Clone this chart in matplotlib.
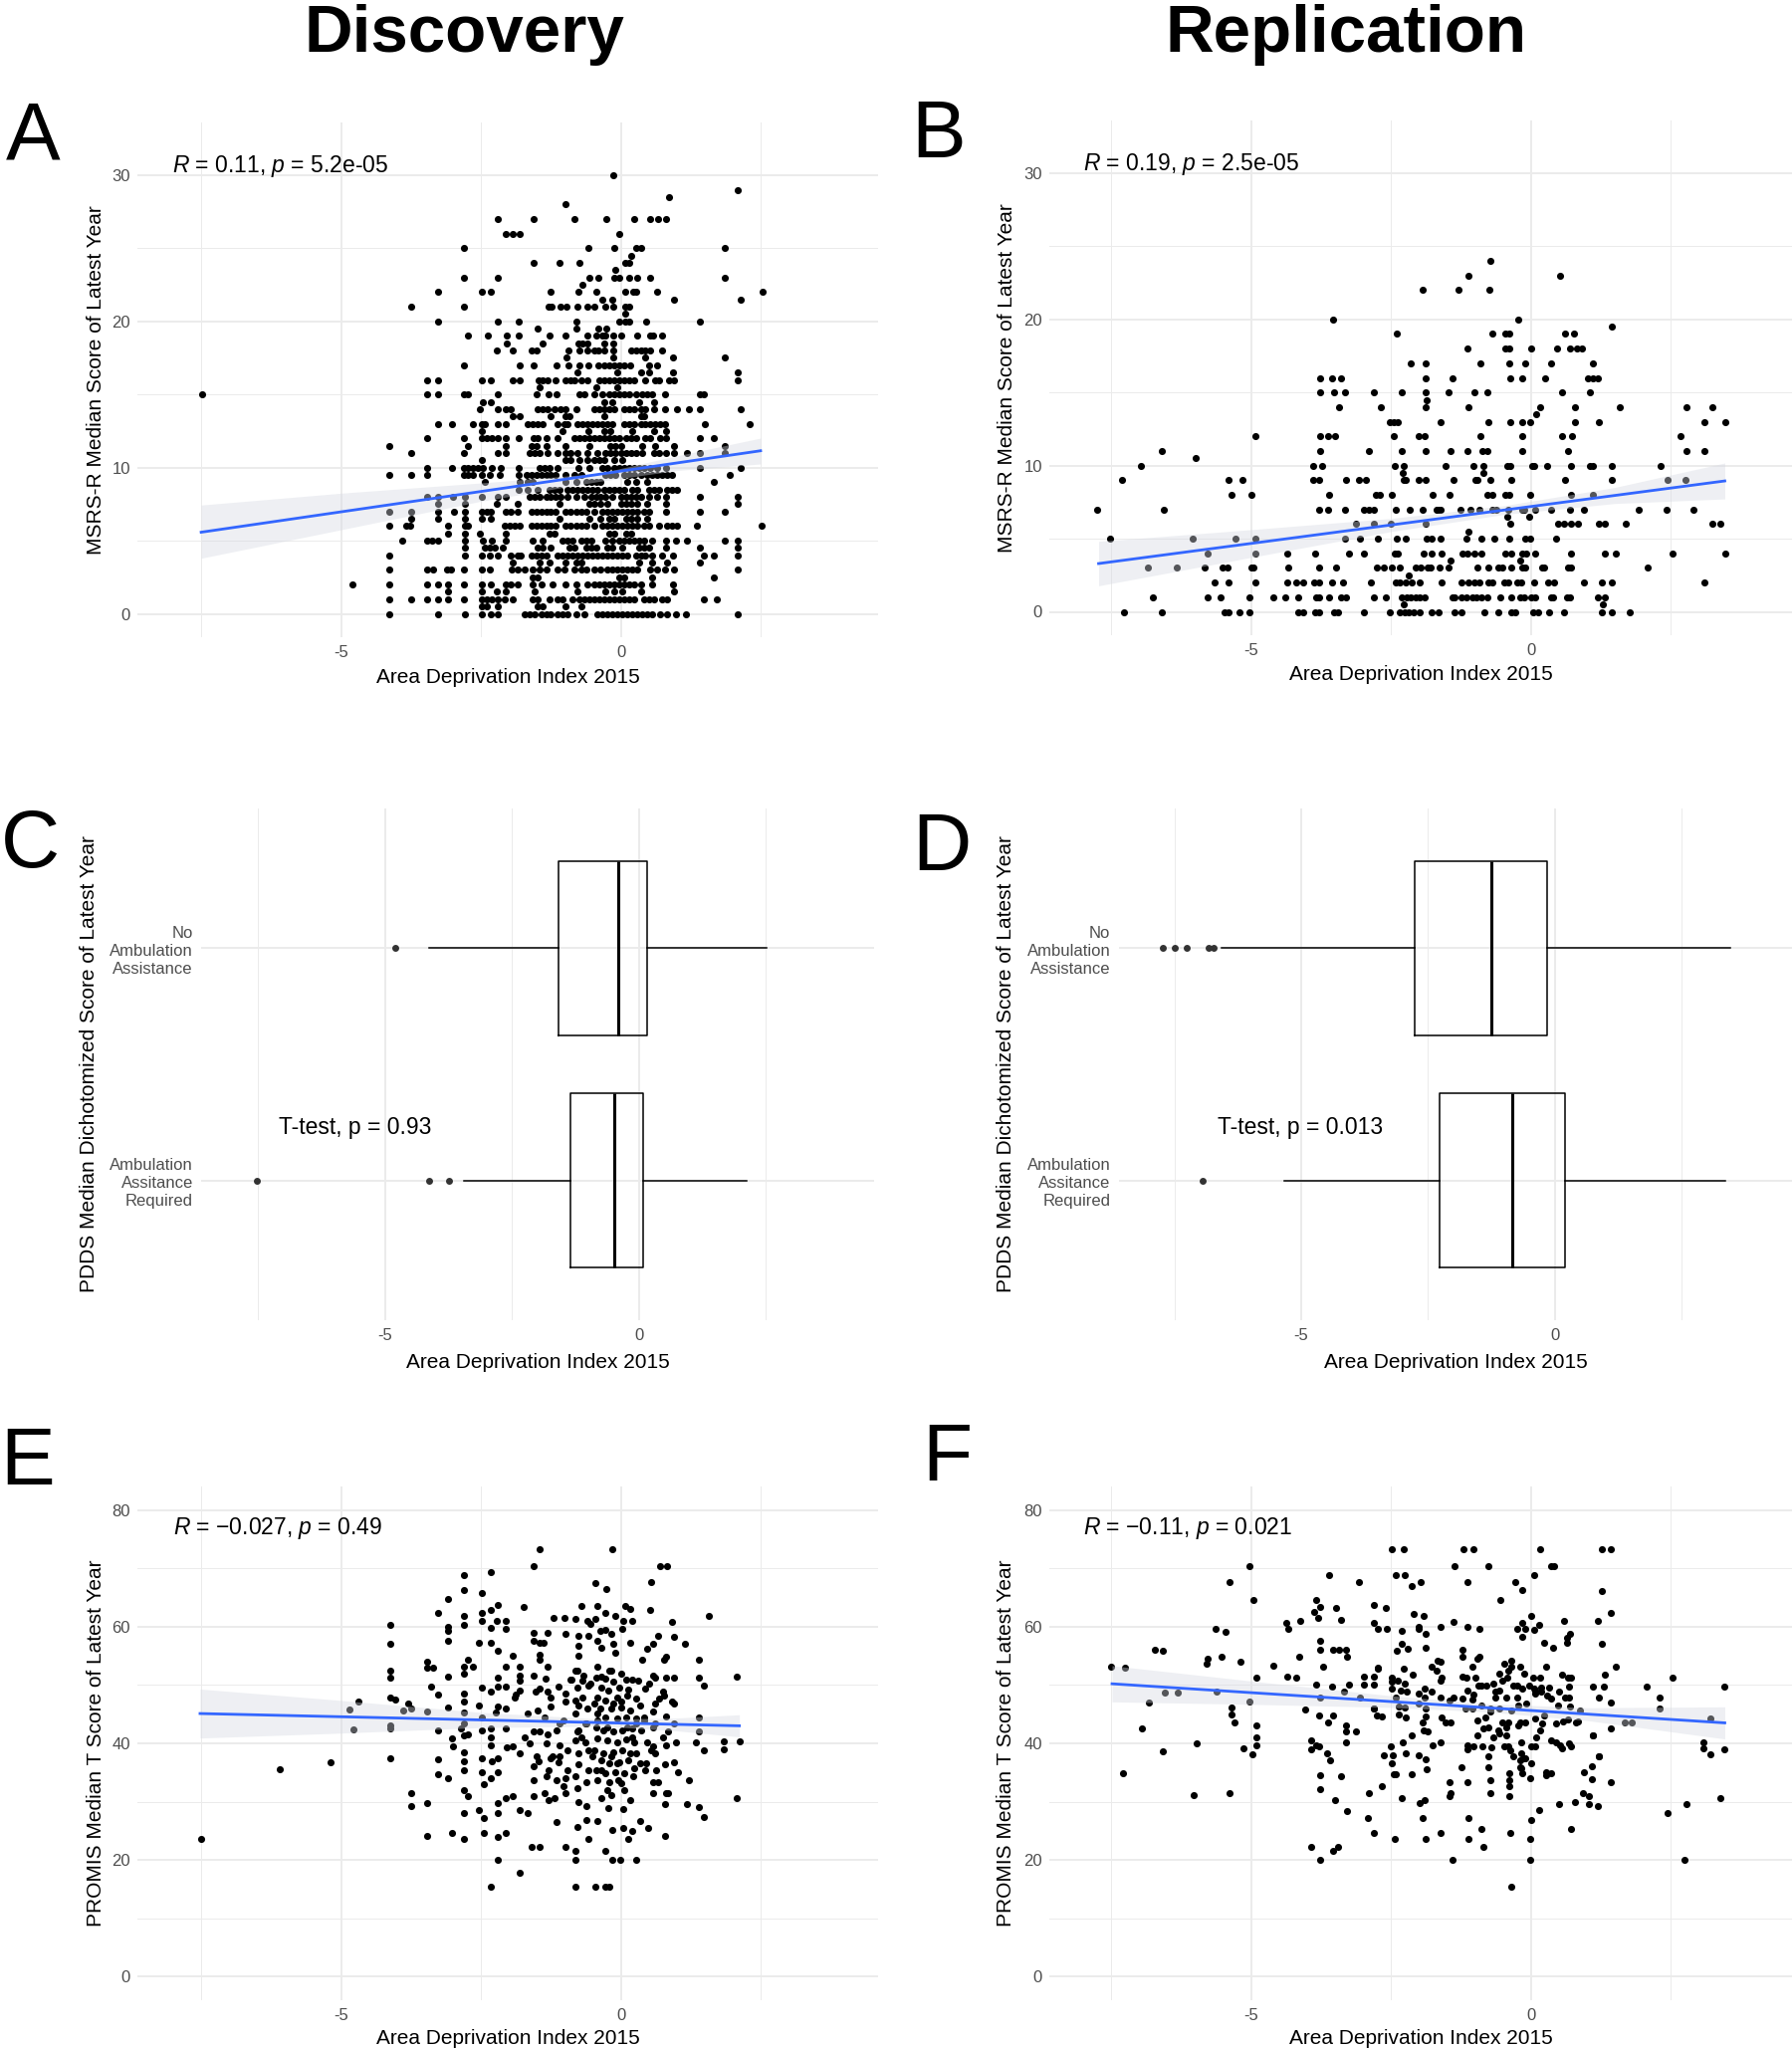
import matplotlib.pyplot as plt
import numpy as np

plt.rcParams['font.family'] = ['Liberation Sans', 'DejaVu Sans']
plt.rcParams['mathtext.fontset'] = 'custom'
plt.rcParams['mathtext.it'] = 'Liberation Sans:italic'
plt.rcParams['mathtext.rm'] = 'Liberation Sans'

# ---------------- data ----------------
# A: discovery, MSRS-R median score vs ADI (score -> list of ADI values)
a_rows = {
    30: [-0.14], 29: [2.09], 28.5: [0.87], 28: [-0.98],
    27: [-2.19, -1.56, -0.82, -0.26, 0.24, 0.52, 0.66, 0.81],
    26: [-2.05, -1.93, -1.80, -0.03],
    25: [-2.80, -0.58, -0.11, 0.27, 0.36, 1.86],
    24.5: [0.18],
    24: [-1.56, -1.10, -0.73, 0.08, 0.15],
    23.5: [-0.10],
    23: [-2.80, -2.19, -0.56, -0.40, -0.12, -0.02, 0.15, 0.30, 0.53, 1.86],
    22.5: [-0.68],
    22: [-3.26, -2.49, -2.33, -1.25, -0.76, -0.44, 0.08, 0.23, 0.28, 0.65, 2.53],
    21.5: [-0.33, -0.16, 0.96, 2.14],
    21: [-3.74, -2.80, -1.29, -1.23, -1.07, -0.97, -0.78, -0.59, -0.47, -0.28, -0.14, 0.08, 0.15],
    20.5: [0.08],
    20: [-3.26, -2.19, -1.82, -0.79, -0.03, 0.08, 0.15, 0.46, 1.42],
    19.5: [-1.48, -0.79, -0.40, -0.25],
    19: [-2.73, -2.38, -2.04, -1.82, -1.28, -0.99, -0.59, -0.44, -0.33, -0.28, -0.14, 0.0, 0.30, 0.52, 0.58, 0.73],
    18.5: [-2.04, -1.39, -0.76, -0.68, -0.59, -0.30, -0.14],
    18: [-2.21, -1.93, -1.60, -1.51, -0.93, -0.73, -0.59, -0.47, -0.40, -0.30, -0.14, 0.18, 0.27, 0.36, 0.44, 0.53, 0.73],
    17.5: [-0.97, -0.14, 0.44, 0.94, 1.86],
    17: [-2.80, -1.80, -1.56, -1.14, -0.93, -0.73, -0.58, -0.40, -0.30, -0.21, -0.12, -0.03, 0.07, 0.17, 0.50, 0.65],
    16.5: [-0.78, -0.06, 0.37, 0.50, 0.94, 2.09],
    16: [-3.46, -3.26, -2.49, -2.33, -1.93, -1.80, -1.47, -1.39, -1.30, -1.16, -0.98, -0.90, -0.83, -0.71, -0.59,
         -0.39, -0.30, -0.21, -0.12, -0.03, 0.06, 0.15, 0.24, 0.44, 0.62, 0.68, 0.87, 0.95, 2.09],
    15.5: [-1.45, -0.44, -0.06],
    15: [-7.48, -3.46, -3.26, -2.80, -2.74, -2.19, -1.51, -1.29, -1.14, -0.73, -0.65, -0.47, -0.33, -0.21, -0.12,
         -0.03, 0.06, 0.15, 0.27, 0.39, 0.47, 0.56, 0.80, 1.42, 1.48],
    14.5: [-2.46, -2.33, -0.30, -0.15, 0.33, 0.59],
    14: [-2.52, -2.19, -2.05, -1.97, -1.48, -1.39, -1.30, -1.19, -1.07, -0.98, -0.80, -0.47, -0.39, -0.30, -0.21,
         -0.12, 0.06, 0.15, 0.24, 0.36, 0.44, 0.59, 0.80, 1.01, 1.22, 1.42, 2.14],
    13.5: [-1.93, -1.81, -1.25, -0.98, -0.92, -0.30, 0.36, 0.42],
    13: [-3.26, -3.01, -2.64, -2.49, -2.43, -2.19, -2.05, -1.66, -1.57, -1.48, -1.39, -1.13, -1.01, -0.95, -0.77,
         -0.68, -0.59, -0.50, -0.42, -0.33, -0.24, -0.15, 0.06, 0.15, 0.24, 0.36, 0.44, 0.53, 0.62, 0.71, 0.80, 1.50, 2.31],
    12.5: [-2.49, -1.05, -0.58, -0.30, -0.19, 0.20, 0.59, 0.81],
    12: [-3.46, -2.80, -2.49, -2.40, -2.31, -2.19, -2.05, -1.82, -1.56, -1.48, -1.33, -1.13, -0.83, -0.74, -0.65,
         -0.56, -0.47, -0.39, -0.30, -0.21, -0.12, -0.03, 0.09, 0.18, 0.27, 0.44, 0.53, 0.71, 0.81, 1.42, 1.66],
    11.5: [-4.13, -2.73, -2.05, -1.60, -1.51, -1.33, -0.98, -0.56, -0.18, -0.09, 0.0, 0.39, 0.62, 0.96, 1.86],
    11: [-3.74, -2.80, -2.19, -2.05, -1.63, -1.54, -1.45, -1.30, -1.13, -0.98, -0.89, -0.77, -0.59, -0.42, -0.27,
         -0.18, -0.09, 0.0, 0.09, 0.18, 0.27, 0.39, 0.59, 0.68, 0.81, 0.96, 1.19, 1.42, 1.86],
    10.5: [-2.49, -0.98, -0.89, -0.74, -0.59, -0.47, -0.39, -0.30, -0.12, 0.03],
    10: [-3.46, -3.01, -2.80, -2.73, -2.64, -2.55, -2.46, -2.31, -2.14, -1.82, -1.45, -1.36, -1.28, -1.13, -0.76,
         -0.56, -0.33, -0.24, -0.12, -0.03, 0.06, 0.15, 0.24, 0.33, 0.42, 0.52, 0.65, 0.81, 1.42, 2.14],
    9.5: [-4.13, -3.74, -3.46, -2.80, -2.73, -2.64, -2.49, -2.34, -2.16, -1.82, -1.69, -1.60, -1.51, -1.42, -1.33,
          -1.25, -1.16, -0.98, -0.83, -0.71, -0.27, -0.18, -0.09, 0.06, 0.15, 0.24, 0.36, 0.47, 0.56, 0.65, 0.74,
          0.83, 0.92, 1.95],
    9: [-2.43, -1.81, -1.66, -1.57, -0.98, -0.80, -0.62, -0.53, -0.44, -0.36, 0.12, 0.27, 0.47, 1.66],
    8.5: [-1.82, -1.66, -1.48, -1.28, -1.19, -1.10, -0.95, -0.86, -0.77, -0.68, -0.59, -0.50, -0.42, -0.30, -0.21,
          -0.12, -0.03, 0.06, 0.21, 0.30, 0.50, 0.59, 0.68, 0.83, 0.92, 1.01],
    8: [-3.46, -3.26, -3.00, -2.79, -2.49, -2.19, -2.05, -1.63, -1.54, -1.45, -1.33, -1.25, -1.16, -1.07, -0.95,
        -0.80, -0.65, -0.53, -0.44, -0.36, -0.27, -0.15, 0.0, 0.09, 0.18, 0.27, 0.36, 0.50, 0.65, 0.81, 1.42, 2.09],
    7.5: [-3.26, -2.79, -2.22, -1.84, -1.10, -0.56, -0.47, -0.36, -0.24, 0.0, 0.09, 0.18, 0.30, 0.47, 0.81, 2.09],
    7: [-4.13, -3.74, -3.26, -2.98, -2.79, -2.49, -2.40, -2.33, -2.06, -1.96, -1.84, -1.60, -1.51, -1.42, -1.33,
        -1.25, -1.16, -0.98, -0.89, -0.80, -0.71, -0.62, -0.47, -0.33, -0.24, -0.15, -0.06, 0.03, 0.12, 0.21, 0.30,
        0.42, 0.50, 0.81, 1.42, 1.86],
    6.5: [-3.74, -3.26, -2.79, -2.49, -2.33, -1.10, -0.56, -0.36, -0.21, -0.12, 0.09, 0.18, 0.30, 0.47],
    6: [-4.13, -3.83, -3.77, -3.08, -2.79, -2.73, -2.08, -1.99, -1.90, -1.81, -1.60, -1.51, -1.42, -1.33, -1.25,
        -1.16, -0.98, -0.89, -0.80, -0.71, -0.62, -0.47, -0.33, -0.24, -0.15, -0.06, 0.03, 0.12, 0.21, 0.30, 0.42,
        0.50, 0.68, 0.83, 0.92, 1.01, 1.36, 2.52],
    5.5: [-3.08, -2.79, -2.52, -2.05, -1.28, -1.19, -0.21, -0.12, 0.09, 0.18],
    5: [-3.90, -3.46, -3.38, -3.26, -2.79, -2.46, -2.31, -2.05, -1.57, -1.39, -1.04, -0.95, -0.86, -0.71, -0.62,
        -0.53, -0.27, -0.15, -0.03, 0.06, 0.15, 0.24, 0.33, 0.42, 0.56, 0.81, 0.99, 1.19, 1.86, 2.09],
    4.5: [-2.79, -2.43, -2.34, -2.25, -2.11, -1.48, -1.39, -1.25, -0.92, -0.83, -0.62, -0.53, -0.44, -0.24, -0.15,
          0.03, 0.33, 0.42, 0.50, 0.81, 1.42, 2.09],
    4: [-4.13, -2.79, -2.49, -2.34, -2.19, -1.96, -1.84, -1.78, -1.60, -1.51, -1.42, -1.33, -1.13, -1.04, -0.95,
        -0.86, -0.77, -0.68, -0.59, -0.50, -0.42, -0.33, -0.24, -0.15, -0.06, 0.03, 0.12, 0.27, 0.36, 0.44, 0.56,
        0.74, 0.93, 1.48, 1.66, 2.09],
    3.5: [-1.93, -1.45, -1.28, -0.98, -0.80, -0.71, 0.33, 0.56, 0.83, 1.42],
    3: [-4.13, -3.46, -3.36, -3.11, -3.04, -2.80, -2.49, -2.34, -1.94, -1.84, -1.72, -1.57, -1.45, -1.33, -1.13,
        -1.01, -0.83, -0.71, -0.62, -0.47, -0.36, -0.24, -0.15, -0.06, 0.03, 0.12, 0.21, 0.30, 0.52, 0.65, 0.80,
        0.95, 2.09],
    2.5: [-1.57, -1.48, -0.03, 0.06, 0.56, 1.66],
    2: [-4.80, -4.13, -3.46, -3.26, -3.08, -2.80, -2.49, -2.33, -2.05, -1.96, -1.84, -1.57, -1.42, -1.22, -0.98,
        -0.80, -0.59, -0.47, -0.39, -0.30, -0.21, -0.12, -0.03, 0.06, 0.15, 0.24, 0.36, 0.56, 0.93],
    1.5: [-3.08, -2.49, -2.22, -2.05, -1.54, -0.77, -0.27, -0.12, 0.03, 0.36, 0.96],
    1: [-4.13, -3.74, -3.46, -3.26, -3.08, -2.80, -2.49, -2.40, -2.31, -2.19, -2.08, -1.93, -1.57, -1.48, -1.28,
        -1.13, -1.04, -0.86, -0.74, -0.65, -0.56, -0.47, -0.39, -0.30, -0.21, -0.12, -0.03, 0.06, 0.15, 0.24, 0.42,
        0.50, 0.59, 0.74, 0.83, 1.48, 1.72],
    0.5: [-2.49, -2.40, -2.19, -1.48, -1.39, -0.98, -0.71],
    0: [-4.13, -3.26, -2.79, -2.49, -2.33, -2.19, -1.72, -1.63, -1.54, -1.42, -1.33, -1.25, -1.13, -1.04, -0.95,
        -0.80, -0.65, -0.42, -0.33, -0.24, -0.15, -0.06, 0.03, 0.12, 0.21, 0.30, 0.39, 0.47, 0.56, 0.71, 0.83, 0.98,
        1.17, 2.09],
}

# B: replication, MSRS-R median score vs ADI
b_rows = {
    24: [-0.72], 23: [-1.12, 0.51], 22: [-1.94, -1.29, -0.75], 20: [-3.53, -0.22], 19.5: [1.44],
    19: [-2.40, -0.69, -0.46, -0.39, 0.60, 0.77],
    18: [-1.14, -0.46, -0.39, 0.0, 0.47, 0.70, 0.82, 0.91],
    17: [-2.14, -1.89, -0.90, -0.39, -0.10, 0.36, 1.10],
    16: [-3.77, -3.56, -3.40, -1.89, -1.40, -0.37, -0.16, 0.26, 1.02, 1.10, 1.19],
    15: [-3.77, -3.52, -3.32, -2.81, -2.31, -1.89, -1.47, -1.01, -0.78, 0.56, 1.06],
    14.5: [-1.87],
    14: [-3.42, -2.68, -1.89, -1.12, 0.16, 0.78, 1.59, 2.78, 3.23],
    13.5: [0.10],
    13: [-2.52, -2.45, -2.38, -1.61, -0.76, -0.37, -0.16, -0.02, 0.78, 1.22, 3.09, 3.47],
    12: [-4.92, -3.77, -3.62, -3.50, -2.45, -2.00, -1.90, -0.91, -0.16, 0.56, 0.73, 2.67],
    11: [-6.60, -3.77, -2.90, -2.31, -1.88, -1.44, -1.13, -0.86, -0.78, -0.16, 0.66, 2.78, 3.09],
    10.5: [-5.98],
    10: [-6.97, -3.89, -3.73, -2.44, -2.28, -1.52, -1.03, -0.85, -0.43, -0.37, 0.02, 0.06, 0.28, 0.71, 1.06, 1.11,
         1.44, 2.31],
    9.5: [-2.29, -0.85],
    9: [-7.31, -5.40, -5.15, -3.89, -3.78, -3.30, -3.08, -2.94, -2.28, -2.23, -2.00, -1.89, -1.39, -1.00, -0.96,
        -0.72, -0.35, 0.61, 1.44, 2.44, 2.75],
    8: [-5.35, -5.00, -3.61, -2.77, -2.70, -2.49, -1.76, -1.45, -0.78, -0.69, -0.46, -0.39, -0.02, 0.71, 1.11],
    7: [-7.75, -6.56, -3.78, -3.63, -3.32, -2.98, -2.90, -2.81, -2.41, -2.16, -1.94, -1.69, -1.65, -1.61, -1.26,
        -1.08, -0.93, -0.69, -0.62, -0.40, -0.16, -0.12, 0.08, 0.36, 0.70, 0.94, 1.92, 2.42, 2.90],
    6.5: [-0.43, -0.04],
    6: [-3.13, -2.81, -2.50, -1.89, -0.37, 0.48, 0.59, 0.71, 0.83, 1.22, 1.31, 1.69, 3.23, 3.38],
    5.5: [-1.12],
    5: [-7.51, -6.04, -5.28, -4.92, -3.32, -3.06, -2.73, -2.39, -2.23, -1.86, -1.77, -1.62, -1.15, -0.89, -0.65,
        -0.39, -0.11, -0.01, 0.45],
    4: [-5.78, -4.92, -4.36, -3.85, -3.25, -2.99, -2.44, -2.38, -1.92, -1.77, -1.60, -1.23, -1.13, -1.01, -0.89,
        -0.46, -0.36, -0.16, -0.08, 0.08, 0.71, 1.31, 1.52, 2.53, 3.47],
    3.5: [-1.43, -0.20],
    3: [-6.84, -6.32, -5.83, -5.51, -5.41, -5.00, -4.96, -4.34, -3.78, -3.48, -2.75, -2.62, -2.48, -2.35, -2.06,
        -1.97, -1.85, -1.79, -1.63, -1.48, -0.96, -0.77, -0.59, -0.52, -0.36, -0.16, -0.10, 0.19, 0.24, 0.66, 0.71,
        2.09],
    2.5: [-2.19],
    2: [-5.65, -5.40, -4.92, -4.36, -4.19, -4.06, -3.87, -3.79, -3.56, -3.35, -2.86, -2.41, -2.34, -2.24, -2.13,
        -1.98, -1.59, -1.25, -1.12, -1.01, -0.93, -0.76, -0.69, -0.48, -0.40, -0.24, -0.18, 0.05, 0.30, 0.42, 0.94,
        1.26, 1.44, 3.09],
    1: [-6.75, -5.78, -5.54, -5.03, -4.60, -4.38, -4.15, -3.83, -3.79, -3.60, -3.39, -3.31, -2.81, -2.60, -2.30,
        -2.22, -2.14, -2.06, -1.98, -1.90, -1.41, -1.37, -1.25, -1.15, -1.05, -0.97, -0.89, -0.78, -0.55, -0.36,
        -0.20, -0.12, 0.0, 0.08, 0.35, 0.40, 0.65, 0.69, 1.19, 1.31],
    0.5: [-2.28, 1.28],
    0: [-7.27, -6.60, -5.48, -5.40, -5.20, -5.02, -4.15, -4.06, -3.85, -3.79, -3.52, -3.44, -2.99, -2.52, -2.34,
        -2.26, -2.18, -2.10, -1.98, -1.77, -1.65, -1.37, -1.25, -0.83, -0.59, -0.36, -0.28, 0.04, 0.12, 0.32, 0.59,
        1.27, 1.44, 1.77],
}

# E: discovery, PROMIS median T score vs ADI (adi, score)
e_points = [
    (-7.50, 23.6), (-6.09, 35.6), (-5.18, 36.7), (-4.85, 45.8), (-4.78, 42.4), (-4.69, 47.1),
    (-4.12, 60.3), (-4.12, 57.0), (-4.12, 52.5), (-4.12, 51.2), (-4.12, 47.8), (-4.03, 47.5), (-4.12, 43.1),
    (-4.12, 42.5), (-4.12, 37.5), (-3.80, 46.9), (-3.74, 45.9), (-3.89, 45.7), (-3.74, 31.4), (-3.74, 29.2),
    (-3.46, 54.0), (-3.46, 52.9), (-3.36, 52.9), (-3.39, 49.8), (-3.26, 48.4), (-3.46, 45.4), (-3.26, 42.2),
    (-3.26, 37.3), (-3.26, 34.7), (-3.46, 29.7), (-3.46, 24.2), (-3.26, 62.3),
    (-3.08, 64.7), (-3.08, 59.9), (-3.08, 59.2), (-3.08, 57.5), (-3.08, 51.5), (-3.08, 46.1), (-3.01, 40.8),
    (-2.99, 39.5), (-3.08, 34.1), (-3.01, 24.7), (-2.80, 68.8), (-2.80, 66.2), (-2.80, 61.8), (-2.80, 60.3),
    (-2.74, 54.3), (-2.80, 53.2), (-2.65, 53.2), (-2.80, 52.0), (-2.80, 48.5), (-2.80, 47.2), (-2.80, 45.2),
    (-2.80, 43.4), (-2.80, 41.4), (-2.74, 41.6), (-2.80, 38.5), (-2.80, 36.9), (-2.80, 35.4), (-2.80, 32.0),
    (-2.74, 30.9), (-2.80, 28.0), (-2.80, 23.6), (-2.86, 42.5), (-2.49, 65.7), (-2.49, 62.4), (-2.49, 60.9),
    (-2.53, 57.3), (-2.49, 49.6), (-2.53, 46.5), (-2.48, 44.5), (-2.49, 42.2), (-2.49, 37.4), (-2.49, 35.1),
    (-2.45, 33.0), (-2.54, 28.6), (-2.45, 27.2), (-2.45, 24.7),
    (-2.33, 69.4), (-2.33, 62.8), (-2.20, 63.7), (-2.21, 60.9), (-2.06, 60.9), (-2.33, 59.8), (-2.06, 59.7),
    (-2.33, 57.3), (-2.20, 55.9), (-1.93, 55.0), (-2.05, 53.2), (-1.81, 53.2), (-2.20, 51.3), (-1.81, 51.6),
    (-1.81, 50.8), (-2.20, 49.8), (-2.05, 49.8), (-2.33, 48.8), (-1.81, 49.1), (-1.90, 47.8), (-2.20, 46.3),
    (-2.05, 45.9), (-1.87, 48.4), (-2.24, 45.2), (-2.33, 42.5), (-2.05, 42.5), (-2.33, 41.1), (-2.33, 39.6),
    (-2.04, 39.3), (-1.93, 39.5), (-1.81, 38.3), (-2.20, 37.4), (-2.31, 37.0), (-2.20, 35.0), (-2.33, 34.0),
    (-1.93, 31.0), (-2.05, 30.6), (-2.20, 29.8), (-1.81, 28.6), (-2.20, 28.0), (-2.05, 24.7), (-2.20, 23.9),
    (-2.20, 20.1), (-1.81, 17.8), (-2.33, 15.5), (-1.74, 63.4), (-1.66, 28.1), (-1.71, 41.1), (-1.56, 70.3),
    (-1.56, 59.0), (-1.56, 57.6), (-1.45, 57.3), (-1.38, 57.3), (-1.56, 51.6), (-1.53, 48.8), (-1.49, 45.7),
    (-1.66, 45.1), (-1.56, 42.0), (-1.45, 42.1), (-1.63, 40.0), (-1.51, 37.7), (-1.56, 36.0), (-1.56, 33.7),
    (-1.56, 31.0), (-1.60, 22.2), (-1.45, 22.2),
    (-1.45, 73.3), (-1.21, 61.5), (-1.00, 61.5), (-1.30, 58.9), (-0.98, 58.7), (-1.45, 55.2), (-1.45, 54.3),
    (-1.30, 53.2), (-1.34, 51.1), (-1.45, 49.4), (-1.30, 48.8), (-1.12, 49.8), (-1.25, 47.8), (-0.98, 48.5),
    (-0.98, 47.1), (-1.26, 46.3), (-1.36, 44.5), (-1.09, 43.4), (-1.30, 41.6), (-1.33, 40.0), (-1.09, 39.7),
    (-0.95, 38.8), (-1.26, 37.4), (-1.46, 37.0), (-1.12, 36.8), (-1.29, 35.4), (-1.32, 34.4), (-1.15, 33.6),
    (-0.98, 34.0), (-1.36, 31.4), (-1.29, 30.3), (-1.19, 30.6), (-0.98, 31.5), (-1.15, 26.5), (-0.98, 22.2),
    (-0.81, 61.4), (-0.71, 63.5), (-0.75, 58.4), (-0.58, 58.5), (-0.75, 56.7), (-0.76, 55.0), (-0.88, 50.9),
    (-0.78, 52.5), (-0.78, 49.6), (-0.69, 50.8), (-0.58, 49.9), (-0.81, 47.4), (-0.75, 46.5), (-0.60, 45.9),
    (-0.81, 45.1), (-0.64, 43.4), (-0.78, 42.0), (-0.71, 41.1), (-0.64, 40.2), (-0.76, 38.3), (-0.58, 38.8),
    (-0.75, 36.4), (-0.58, 35.4), (-0.81, 34.3), (-0.61, 33.4), (-0.78, 32.3), (-0.75, 30.0), (-0.61, 29.2),
    (-0.78, 25.7), (-0.58, 23.6), (-0.81, 21.6), (-0.81, 20.1), (-0.81, 15.5), (-0.61, 26.9), (-0.54, 60.4),
    (-0.60, 61.0),
    (-0.15, 73.3), (-0.45, 67.4), (-0.26, 66.4), (-0.41, 63.5), (0.08, 63.5), (0.17, 63.0), (-0.27, 62.3),
    (-0.45, 61.4), (-0.10, 61.9), (0.05, 60.9), (0.20, 60.9), (-0.37, 59.3), (-0.27, 59.4), (-0.17, 58.7),
    (0.03, 59.6), (-0.41, 57.6), (-0.14, 57.1), (0.17, 57.3), (-0.34, 56.3), (-0.10, 55.6), (-0.41, 53.2),
    (-0.20, 52.5), (0.0, 51.9), (-0.44, 51.3), (-0.28, 51.1), (-0.14, 50.5), (0.10, 50.9), (0.20, 50.9),
    (-0.35, 49.6), (-0.22, 49.1), (-0.03, 49.6), (0.14, 49.2), (-0.41, 47.9), (-0.27, 47.4), (-0.14, 46.8),
    (0.0, 47.1), (0.27, 47.6), (-0.37, 45.9), (-0.17, 45.9), (0.0, 46.2), (0.17, 45.6), (0.34, 46.5),
    (-0.27, 44.5), (-0.07, 44.2), (0.10, 44.5), (0.27, 44.2), (-0.44, 42.8), (-0.31, 42.2), (-0.14, 42.0),
    (0.03, 42.2), (0.20, 42.5), (0.37, 42.2), (-0.41, 40.8), (-0.24, 40.5), (-0.07, 40.2), (0.10, 40.6),
    (0.24, 40.2), (-0.47, 38.8), (-0.31, 38.3), (-0.14, 38.5), (0.03, 38.8), (0.17, 38.3), (-0.34, 37.1),
    (-0.20, 36.6), (-0.03, 36.8), (0.14, 37.1), (0.34, 36.6), (-0.44, 35.4), (-0.27, 34.8), (-0.10, 35.1),
    (0.07, 34.8), (0.24, 35.7), (-0.41, 33.7), (-0.20, 33.4), (0.0, 33.1), (-0.24, 32.0), (-0.17, 31.1),
    (0.07, 32.0), (0.17, 30.3), (-0.35, 30.6), (-0.22, 28.9), (0.05, 28.7), (-0.41, 26.6), (-0.15, 25.2),
    (0.05, 25.5), (0.20, 24.9), (0.14, 23.6), (-0.27, 21.6), (-0.15, 20.1), (-0.01, 20.1), (0.27, 20.1),
    (-0.45, 15.5), (-0.27, 15.5), (-0.20, 15.5), (0.34, 26.6), (0.49, 25.5),
    (0.54, 67.6), (0.71, 70.3), (0.83, 70.3), (0.53, 62.9), (0.92, 60.8), (0.66, 58.5), (0.95, 58.3),
    (1.15, 57.1), (0.58, 57.1), (0.47, 56.2), (0.81, 54.9), (0.78, 54.3), (0.39, 54.3), (0.61, 51.3),
    (0.81, 51.2), (0.95, 51.2), (0.51, 50.2), (0.75, 48.8), (0.78, 48.2), (0.61, 46.8), (0.95, 46.8),
    (0.58, 45.4), (0.81, 44.6), (0.41, 44.4), (0.58, 42.8), (0.85, 42.0), (0.98, 40.2), (0.54, 38.8),
    (0.58, 39.4), (0.81, 39.7), (0.95, 36.7), (0.80, 36.4), (0.44, 35.4), (0.64, 35.4), (1.02, 35.0),
    (0.58, 33.3), (0.66, 33.3), (1.22, 33.7), (0.58, 31.5), (0.81, 31.5), (0.85, 31.5), (0.80, 29.6),
    (1.19, 29.6), (0.80, 24.2), (1.40, 54.3), (1.40, 51.2), (1.48, 49.9), (1.40, 44.5), (1.40, 42.1),
    (1.34, 40.1), (1.48, 38.8), (1.40, 29.0), (1.48, 27.3), (1.58, 61.8), (1.85, 40.3), (1.85, 38.9),
    (2.08, 51.5), (2.12, 40.3), (2.08, 30.6),
    (-0.90, 50.9), (-0.81, 52.5), (-0.66, 51.6), (-0.54, 50.3), (-0.35, 51.5), (-0.17, 52.5), (0.31, 50.8),
    (0.44, 49.4), (0.58, 51.6), (0.69, 47.6), (0.92, 47.2), (0.41, 43.9), (0.27, 43.4), (0.11, 42.8),
    (-0.24, 42.8), (-0.42, 43.9), (-0.61, 43.4), (-0.76, 42.2), (-0.81, 40.5), (-0.50, 37.7), (-0.34, 35.4),
    (-0.05, 33.7), (0.22, 34.3), (0.45, 36.6), (0.61, 38.3), (0.47, 40.2), (0.20, 41.1), (-1.02, 43.9),
    (-1.15, 42.2), (-1.09, 37.7), (-0.95, 35.4), (-1.02, 32.6), (-1.22, 37.7), (-0.68, 47.9), (-0.47, 46.8),
    (-0.41, 45.1), (-0.07, 47.9), (0.12, 48.2), (0.61, 43.4), (0.75, 41.1), (0.95, 43.4), (-0.17, 37.7),
    (0.27, 38.3), (-0.07, 36.6),
]

# F: replication, PROMIS median T score vs ADI (adi, score)
f_points = [
    (-2.48, 73.3), (-2.27, 73.3), (-1.21, 73.3), (-1.02, 73.3), (0.16, 73.3), (1.26, 73.3), (1.43, 73.3),
    (-5.02, 70.3), (-1.37, 70.3), (-0.76, 70.3), (0.35, 70.3), (0.42, 70.3),
    (-3.60, 68.8), (-2.41, 68.8), (-2.25, 68.8), (0.06, 68.8),
    (-5.39, 67.6), (-3.07, 67.6), (-1.97, 67.6), (-2.13, 67.0), (-1.13, 67.6), (-0.28, 67.6),
    (-0.16, 66.2), (1.27, 66.1), (-4.95, 64.5), (-0.54, 64.5), (-3.83, 64.5),
    (-2.81, 63.7), (-2.60, 63.2), (-3.77, 63.4), (-3.48, 63.2), (-3.87, 62.6), (-3.80, 61.5),
    (-2.10, 62.2), (-1.92, 61.8), (1.43, 62.4), (0.0, 61.9),
    (-4.37, 60.7), (-4.12, 61.0), (-4.33, 59.7), (-3.39, 61.1), (-2.80, 60.7), (-2.73, 59.7), (-2.58, 59.7),
    (-5.63, 59.7), (-5.45, 59.1),
    (-2.01, 60.0), (-2.00, 59.7), (-1.88, 58.7), (-2.30, 59.3), (-1.62, 60.0), (-1.38, 60.8), (-1.14, 59.9),
    (-0.92, 59.7), (-0.16, 60.7), (-0.24, 59.7), (-0.10, 59.7), (0.05, 59.4), (0.14, 60.3), (0.59, 61.0),
    (1.19, 61.0), (-0.15, 58.3), (0.70, 58.7), (0.65, 58.1), (0.64, 57.3), (0.23, 57.3), (0.39, 56.3),
    (1.26, 57.1),
    (-6.72, 56.0), (-6.58, 55.8), (-3.77, 57.5), (-3.77, 56.0), (-3.54, 56.0), (-3.42, 56.0), (-3.30, 56.0),
    (-3.28, 54.8), (-2.40, 55.9), (-2.31, 57.0), (-2.20, 56.2), (-1.88, 56.4),
    (-1.22, 56.0), (-1.22, 54.8), (-0.96, 54.5), (-0.92, 54.8),
    (-5.79, 53.6), (-5.77, 54.5), (-5.52, 54.8), (-5.19, 54.0), (-4.60, 53.3), (-4.13, 54.8),
    (-7.49, 53.2), (-7.25, 52.9),
    (-3.71, 53.2), (-2.73, 52.9), (-2.28, 52.8), (-2.12, 51.8), (-1.78, 53.2), (-1.67, 54.2), (-1.62, 53.9),
    (-1.05, 53.2), (-0.48, 53.7), (-0.36, 54.1), (-0.36, 53.2), (-0.40, 52.5), (-0.42, 51.3), (-0.52, 50.8),
    (-0.56, 51.9), (-0.20, 53.2), (0.27, 53.2), (-0.13, 51.9), (0.04, 51.2), (0.56, 51.8), (0.66, 51.3),
    (0.71, 51.2), (0.67, 49.8), (1.31, 51.8), (1.51, 53.2),
    (-4.90, 51.2), (-4.35, 51.5), (-4.20, 51.2), (-2.99, 51.5), (-2.99, 50.1), (-2.74, 52.8),
    (2.07, 49.8), (2.52, 51.3), (3.46, 49.8),
    (-3.84, 50.1), (-3.55, 49.8), (-3.25, 50.1), (-2.81, 50.1),
    (-6.54, 48.7), (-6.30, 48.7), (-5.61, 48.9), (-6.82, 47.0), (-5.02, 47.2),
    (-4.04, 45.8), (-3.77, 47.8), (-3.34, 48.8), (-3.05, 47.8), (-2.81, 45.9), (-2.76, 44.7),
    (2.29, 47.8), (2.29, 46.0), (3.21, 44.3),
    (-5.34, 46.1), (-5.34, 44.9), (-5.29, 43.6), (-4.90, 43.0), (-4.90, 41.1), (-4.90, 39.6),
    (-6.95, 42.5), (-5.97, 40.0), (-6.58, 38.6), (-7.28, 34.9), (-5.13, 39.1), (-4.98, 38.1),
    (-6.02, 31.2), (-5.39, 31.4),
    (-3.78, 44.7), (-3.62, 43.5), (-3.54, 44.7), (-3.31, 43.1), (-3.31, 42.1), (-3.12, 42.1), (-3.31, 40.1),
    (-3.92, 40.5), (-3.92, 39.0), (-3.84, 39.7), (-3.78, 39.5), (-3.64, 38.3), (-3.58, 37.1),
    (-3.77, 34.5), (-3.77, 32.2), (-3.40, 34.4), (-3.50, 30.2), (-3.29, 28.4),
    (-2.89, 31.5), (-2.92, 27.2), (-2.81, 24.7), (-2.67, 32.6),
    (-3.92, 22.2), (-3.54, 21.5), (-3.44, 22.2), (-3.77, 20.1),
    (2.44, 28.0), (2.77, 29.6), (2.74, 20.1), (3.38, 30.6),
    (3.08, 40.2), (3.08, 39.1), (3.21, 38.1), (3.46, 39.0),
    (1.68, 43.5), (1.80, 43.5), (1.43, 42.6), (1.10, 41.3), (1.22, 37.8), (1.43, 33.3), (1.30, 49.8),
    (1.11, 49.8), (1.21, 47.8), (1.43, 47.0),
    (-2.49, 51.2), (-2.38, 50.7), (-2.25, 50.2), (-2.33, 49.1), (-2.21, 48.8), (-2.41, 47.8), (-2.36, 46.3),
    (-2.25, 46.1), (-2.36, 45.0), (-2.23, 44.5), (-2.01, 48.5), (-1.90, 49.4), (-1.77, 48.8), (-1.90, 47.9),
    (-2.01, 46.8), (-1.89, 45.9), (-1.88, 44.6), (-1.93, 43.5), (-1.91, 42.2), (-1.85, 42.0), (-2.13, 41.4),
    (-2.29, 40.2), (-2.51, 39.4), (-2.23, 38.3), (-2.01, 38.0), (-1.89, 37.3), (-1.87, 35.6), (-1.75, 39.7),
    (-1.62, 40.2), (-1.59, 44.5), (-1.53, 43.5), (-1.43, 43.5), (-1.61, 47.9), (-1.46, 47.4), (-1.38, 47.9),
    (-1.59, 51.3), (-1.61, 50.8), (-1.69, 52.5),
    (-1.23, 51.5), (-1.15, 51.3), (-1.00, 51.2), (-0.94, 49.9), (-0.88, 49.9), (-0.80, 49.9), (-0.68, 50.2),
    (-0.64, 48.8), (-1.13, 49.1), (-1.03, 48.4), (-1.22, 47.6), (-1.05, 47.5), (-1.17, 45.9), (-1.05, 45.9),
    (-0.88, 46.5), (-0.82, 44.5), (-0.96, 43.9), (-0.72, 45.9), (-0.76, 42.8), (-0.96, 41.4), (-0.85, 42.5),
    (-1.13, 39.7), (-1.03, 39.4), (-0.87, 39.4), (-1.13, 38.9), (-0.76, 37.7), (-0.71, 39.3), (-0.68, 41.1),
    (-0.56, 41.7), (-0.52, 43.5), (-0.58, 42.2), (-0.44, 42.8), (-0.40, 43.5), (-0.45, 41.4), (-0.40, 39.5),
    (-0.48, 39.4), (-0.37, 38.8), (-0.18, 40.2), (-0.20, 43.5), (-0.10, 43.5), (-0.22, 43.1), (-0.08, 46.8),
    (-0.24, 47.9), (-0.32, 49.9), (-0.24, 49.9), (-0.16, 49.4), (-0.04, 49.9), (0.05, 49.4), (0.07, 49.1),
    (0.08, 48.5), (-0.56, 49.1), (-0.44, 47.9), (-0.63, 47.9), (-0.56, 45.9), (-0.72, 45.4), (-0.36, 45.7),
    (-0.23, 46.5), (-0.38, 34.8), (-0.38, 33.7), (-0.38, 32.6), (-0.38, 31.0), (-0.76, 35.9), (-0.72, 33.7),
    (-0.72, 31.5), (-0.17, 35.7), (-0.16, 34.8), (-0.02, 34.0), (0.0, 36.6), (-0.32, 37.7), (-0.12, 37.4),
    (0.0, 39.5), (0.08, 39.4), (0.10, 41.1),
    (0.18, 48.8), (0.28, 48.2), (0.35, 47.6), (0.50, 48.8), (0.60, 47.8), (0.68, 47.8), (0.70, 46.3),
    (0.48, 46.5), (0.44, 43.4), (0.58, 43.7), (0.66, 44.1), (0.83, 43.7), (0.36, 40.5), (0.44, 40.2),
    (0.52, 39.7), (0.56, 39.1), (0.68, 40.0), (0.71, 39.5), (0.27, 35.1), (0.35, 34.8), (0.27, 34.6),
    (0.50, 29.6), (0.79, 30.0), (0.92, 31.4), (1.03, 31.0), (1.03, 29.6), (1.19, 29.2), (0.94, 35.0),
    (1.08, 36.0), (1.09, 33.8), (1.21, 37.8), (1.10, 41.3), (0.80, 43.5), (0.88, 45.7), (0.20, 43.4),
    (0.16, 42.2), (0.24, 44.8), (0.08, 44.2), (0.18, 49.6), (0.32, 49.6), (0.16, 51.3),
    (-2.49, 49.4), (-2.48, 50.5), (-2.81, 51.5), (-2.67, 44.6), (-2.81, 45.9), (-2.63, 38.0), (-2.47, 38.0),
    (-2.48, 36.6), (-2.45, 34.7), (-2.41, 34.7), (-2.13, 34.7), (-2.31, 30.6), (-1.99, 29.7), (-1.90, 30.2),
    (-1.93, 27.2), (-1.88, 23.6), (-2.44, 23.6),
    (-1.46, 30.9), (-1.43, 31.4), (-1.46, 33.3), (-1.25, 35.9), (-1.13, 33.3), (-1.12, 27.2), (-1.12, 23.6),
    (-0.89, 25.4), (-0.85, 22.2), (-1.62, 24.7), (-1.41, 20.1), (-0.36, 15.5), (-0.02, 20.1), (-0.02, 23.6),
    (-0.37, 24.7), (0.01, 26.9), (0.15, 28.5), (0.71, 25.4), (-0.17, 38.3), (-0.20, 37.1), (-0.19, 35.9),
    (-0.10, 37.4),
]

# linear fits (line ends) and confidence bands read at a few ADI values
a_fit_x, a_fit_y = [-7.5, 2.5], [5.58, 11.15]
a_band_x = [-7.5, -5.0, -2.5, -0.4, 1.0, 2.5]
a_band_lo = [3.80, 5.75, 7.70, 9.05, 9.80, 10.25]
a_band_hi = [7.44, 8.25, 8.95, 9.60, 10.80, 12.02]

b_fit_x, b_fit_y = [-7.72, 3.46], [3.30, 8.95]
b_band_x = [-7.72, -5.0, -2.5, -0.5, 1.5, 3.46]
b_band_lo = [1.78, 3.72, 5.49, 6.65, 7.41, 7.72]
b_band_hi = [4.82, 5.62, 6.39, 7.25, 8.51, 10.18]

e_fit_x, e_fit_y = [-7.52, 2.12], [45.1, 43.0]
e_band_x = [-7.52, -5.0, -2.5, -0.3, 1.0, 2.12]
e_band_lo = [40.9, 41.75, 42.7, 42.93, 42.14, 41.1]
e_band_hi = [49.3, 47.35, 45.3, 44.13, 44.34, 44.9]

f_fit_x, f_fit_y = [-7.48, 3.46], [50.2, 43.5]
f_band_x = [-7.48, -5.0, -2.5, -0.8, 1.0, 3.46]
f_band_lo = [47.1, 46.68, 46.15, 45.41, 43.9, 40.75]
f_band_hi = [53.3, 50.68, 48.15, 46.81, 46.1, 46.25]

# C / D boxplots: [Ambulation Assitance Required, No Ambulation Assistance]
pdds_labels = ['Ambulation\nAssitance\nRequired', 'No\nAmbulation\nAssistance']
c_whislo = [-3.45, -4.13]
c_q1 = [-1.35, -1.58]
c_med = [-0.48, -0.41]
c_q3 = [0.08, 0.16]
c_whishi = [2.12, 2.51]
c_fliers = [[-7.53, -4.13, -3.74], [-4.79]]

d_whislo = [-5.34, -6.57]
d_q1 = [-2.27, -2.76]
d_med = [-0.85, -1.25]
d_q3 = [0.20, -0.16]
d_whishi = [3.35, 3.45]
d_fliers = [[-6.94], [-7.73, -7.49, -7.26, -6.82, -6.73]]

# ---------------- drawing ----------------
W, H = 1800, 2058
fig = plt.figure(figsize=(W / 100, H / 100), dpi=100)

GRID = '#EBEBEB'
TICK = '#4D4D4D'


def add_ax(l, r, t, b):
    return fig.add_axes([l / W, 1 - b / H, (r - l) / W, (b - t) / H])


def style(ax, xlim, ylim, yticks, yminor, ypad=5):
    ax.set_xlim(*xlim)
    ax.set_ylim(*ylim)
    for s in ax.spines.values():
        s.set_visible(False)
    ax.set_xticks([-5, 0])
    ax.set_xticklabels(['-5', '0'])
    ax.set_xticks([-7.5, -2.5, 2.5], minor=True)
    ax.set_yticks(yticks)
    ax.set_yticks(yminor, minor=True)
    ax.grid(True, which='major', color=GRID, lw=1.4)
    ax.grid(True, which='minor', color=GRID, lw=0.7)
    ax.set_axisbelow(True)
    ax.tick_params(which='both', length=0, labelsize=12, labelcolor=TICK)
    ax.tick_params(axis='x', pad=6)
    ax.tick_params(axis='y', pad=ypad)


def rows_to_xy(rows):
    xs, ys = [], []
    for score, adis in rows.items():
        xs += adis
        ys += [score] * len(adis)
    return np.array(xs), np.array(ys)


def scatter_panel(ax, xs, ys, fx, fy, bx, blo, bhi):
    ax.scatter(xs, ys, s=26, color='black', linewidths=0, zorder=2)
    ax.fill_between(bx, blo, bhi, color='#d5d9e2', alpha=0.4, lw=0, zorder=3)
    ax.plot(fx, fy, color='#3366FF', lw=2.0, zorder=4)


def box_panel(ax, whislo, q1, med, q3, whishi, fliers):
    stats = []
    for i in range(2):
        stats.append(dict(whislo=whislo[i], q1=q1[i], med=med[i], q3=q3[i],
                          whishi=whishi[i], fliers=fliers[i]))
    ax.bxp(stats, positions=[1, 2], widths=0.75, orientation='horizontal',
           showcaps=False, showfliers=True, manage_ticks=False,
           boxprops=dict(color='black', lw=1.1),
           whiskerprops=dict(color='black', lw=1.1),
           medianprops=dict(color='black', lw=2.2),
           flierprops=dict(marker='o', markerfacecolor='#333333', markeredgecolor='none', markersize=5),
           zorder=3)


# A
ax = add_ax(138, 882, 123, 640)
style(ax, (-8.64, 4.60), (-1.6, 33.6), [0, 10, 20, 30], [5, 15, 25])
xs, ys = rows_to_xy(a_rows)
scatter_panel(ax, xs, ys, a_fit_x, a_fit_y, a_band_x, a_band_lo, a_band_hi)
ax.text(-8.02, 30.18, r'$\it{R}$ = 0.11, $\it{p}$ = 5.2e-05', fontsize=16.5, ha='left', va='baseline')

# B
ax = add_ax(1054, 1800, 121, 638)
style(ax, (-8.6, 4.66), (-1.6, 33.6), [0, 10, 20, 30], [5, 15, 25])
xs, ys = rows_to_xy(b_rows)
scatter_panel(ax, xs, ys, b_fit_x, b_fit_y, b_band_x, b_band_lo, b_band_hi)
ax.text(-8.0, 30.19, r'$\it{R}$ = 0.19, $\it{p}$ = 2.5e-05', fontsize=16.5, ha='left', va='baseline')

# C
ax = add_ax(202, 878, 812, 1326)
box_panel(ax, c_whislo, c_q1, c_med, c_q3, c_whishi, c_fliers)
style(ax, (-8.62, 4.63), (0.4, 2.6), [1, 2], [], ypad=5.8)
ax.set_yticklabels(pdds_labels, ha='right', multialignment='right', linespacing=1.25)
ax.text(-7.09, 1.20, 'T-test, p = 0.93', fontsize=16.5, ha='left', va='baseline')

# D
ax = add_ax(1123.5, 1800, 812, 1326)
box_panel(ax, d_whislo, d_q1, d_med, d_q3, d_whishi, d_fliers)
style(ax, (-8.6, 4.67), (0.4, 2.6), [1, 2], [], ypad=5.8)
ax.set_yticklabels(pdds_labels, ha='right', multialignment='right', linespacing=1.25)
ax.text(-6.65, 1.20, 'T-test, p = 0.013', fontsize=16.5, ha='left', va='baseline')

# E
ax = add_ax(138, 882, 1492.5, 2009)
style(ax, (-8.64, 4.60), (-4.03, 84.1), [0, 20, 40, 60, 80], [10, 30, 50, 70])
ep = np.array(e_points)
scatter_panel(ax, ep[:, 0], ep[:, 1], e_fit_x, e_fit_y, e_band_x, e_band_lo, e_band_hi)
ax.text(-8.0, 75.8, r'$\it{R}$ = ' + '\u22120.027, ' + r'$\it{p}$ = 0.49', fontsize=16.5, ha='left', va='baseline')

# F
ax = add_ax(1054, 1800, 1492.5, 2009)
style(ax, (-8.6, 4.66), (-4.03, 84.1), [0, 20, 40, 60, 80], [10, 30, 50, 70])
fp = np.array(f_points)
scatter_panel(ax, fp[:, 0], fp[:, 1], f_fit_x, f_fit_y, f_band_x, f_band_lo, f_band_hi)
ax.text(-8.0, 75.8, r'$\it{R}$ = ' + '\u22120.11, ' + r'$\it{p}$ = 0.021', fontsize=16.5, ha='left', va='baseline')

# axis titles
ylabels = [
    (97, 381.5, 'MSRS-R Median Score of Latest Year'),
    (1011.8, 379.5, 'MSRS-R Median Score of Latest Year'),
    (89.6, 1069, 'PDDS Median Dichotomized Score of Latest Year'),
    (1011, 1069, 'PDDS Median Dichotomized Score of Latest Year'),
    (97, 1750.7, 'PROMIS Median T Score of Latest Year'),
    (1011, 1750.7, 'PROMIS Median T Score of Latest Year'),
]
for x, y, s in ylabels:
    fig.text(x / W, 1 - y / H, s, rotation=90, fontsize=15, ha='center', va='center')

for x, y in [(510, 686), (1427, 683), (540, 1374), (1462, 1374), (510, 2053), (1427, 2053)]:
    fig.text(x / W, 1 - y / H, 'Area Deprivation Index 2015', fontsize=15, ha='center', va='baseline')

# column titles and panel letters
fig.text(466.8 / W, 1 - 52.5 / H, 'Discovery', fontsize=48.5, fontweight='bold', ha='center', va='baseline')
fig.text(1352 / W, 1 - 52.5 / H, 'Replication', fontsize=48.5, fontweight='bold', ha='center', va='baseline')
for x, y, s in [(6, 160, 'A'), (915, 158, 'B'), (1, 871, 'C'), (916, 874, 'D'), (0, 1491, 'E'), (926, 1487, 'F')]:
    fig.text(x / W, 1 - y / H, s, fontsize=59, ha='left', va='baseline')

fig.savefig('out.png', dpi=100, facecolor='white')
